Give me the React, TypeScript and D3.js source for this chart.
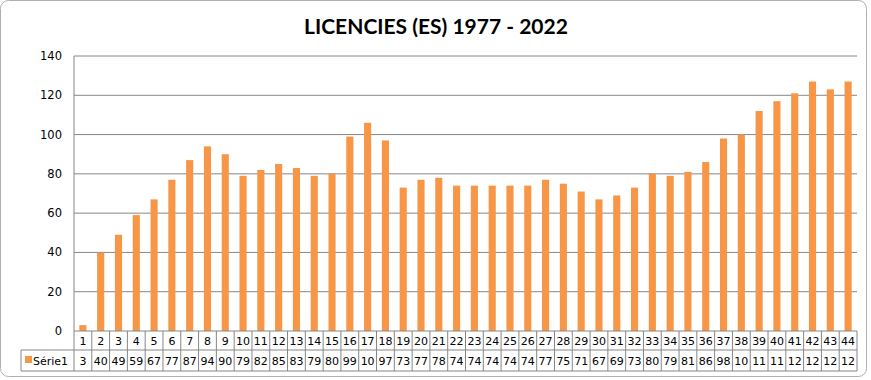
import React from "react";
import * as d3 from "d3";

const categories = Array.from({ length: 44 }, (_, i) => String(i + 1));
const seriesName = "Série1";
const values = [3, 40, 49, 59, 67, 77, 87, 94, 90, 79, 82, 85, 83, 79, 80, 99, 106, 97, 73, 77, 78, 74, 74, 74, 74, 74, 77, 75, 71, 67, 69, 73, 80, 79, 81, 86, 98, 100, 112, 117, 121, 127, 123, 127];
const yTicks = [0, 20, 40, 60, 80, 100, 120, 140];
const title = "LICENCIES (ES) 1977 - 2022";

export default function App() {
  const W = 871, H = 380;
  const left = 74, right = 857, top = 56, bottom = 331;
  const row1 = 350, row2 = 371, tableLeft = 21;
  const x = d3.scaleBand().domain(categories).range([left, right]).paddingInner(0.6).paddingOuter(0.3);
  const xc = d3.scaleBand().domain(categories).range([left, right]);
  const y = d3.scaleLinear().domain([0, 140]).range([bottom, top]);
  const barColor = "#F79646";
  const grid = "#868686";
  const font = "'DejaVu Sans', Verdana, sans-serif";
  return (
    <svg width={W} height={H} style={{ position: "absolute", left: 0, top: 0, background: "#fff" }}>
      <rect x={0.5} y={0.5} width={866} height={376} rx={8} fill="#fff" stroke="#b0b0b0" />
      <text x={436} y={34} textAnchor="middle" fontFamily="Lato, 'Open Sans', sans-serif" fontWeight="bold" fontSize={21} fill="#000">{title}</text>
      {yTicks.map(t => (
        <g key={t}>
          {t > 0 && <line x1={left} x2={right} y1={y(t)} y2={y(t)} stroke={grid} strokeWidth={1} />}
          <text x={62} y={y(t) + 4} textAnchor="end" fontFamily={font} fontSize={11.5} fill="#000">{t}</text>
        </g>
      ))}
      <line x1={left} x2={left} y1={top} y2={bottom} stroke={grid} />
      {values.map((v, i) => (
        <rect key={i} x={x(categories[i])} y={y(v)} width={x.bandwidth()} height={bottom - y(v)} fill={barColor} />
      ))}
      {/* data table */}
      <line x1={left} x2={right} y1={bottom} y2={bottom} stroke={grid} />
      <line x1={tableLeft} x2={right} y1={row1} y2={row1} stroke={grid} />
      <line x1={tableLeft} x2={right} y1={row2} y2={row2} stroke={grid} />
      <line x1={tableLeft} x2={tableLeft} y1={row1} y2={row2} stroke={grid} />
      {categories.map((c) => (
        <line key={c} x1={xc(c)! + xc.bandwidth()} x2={xc(c)! + xc.bandwidth()} y1={bottom} y2={row2} stroke={grid} />
      ))}
      <line x1={left} x2={left} y1={bottom} y2={row2} stroke={grid} />
      {categories.map((c) => (
        <text key={c} x={xc(c)! + xc.bandwidth() / 2} y={345} textAnchor="middle" fontFamily={font} fontSize={11} fill="#000">{c}</text>
      ))}
      {values.map((v, i) => {
        const s = String(v);
        const shown = s.length <= 2 ? s : s.slice(0, 2);
        return (
          <text key={i} x={xc(categories[i])! + xc.bandwidth() / 2} y={365} textAnchor="middle" fontFamily={font} fontSize={11} fill="#000">{shown}</text>
        );
      })}
      <rect x={25} y={356} width={7} height={7} fill={barColor} />
      <text x={33} y={365} fontFamily={font} fontSize={11} fill="#000">{seriesName}</text>
    </svg>
  );
}
